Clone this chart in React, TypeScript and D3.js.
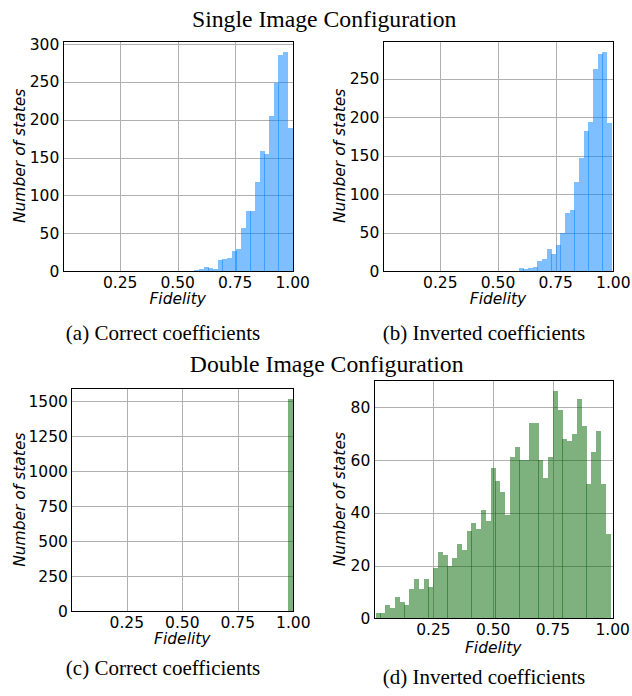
import * as d3 from "d3";

// x axis of every panel: fidelity in [0, 1]
const fidelityTicks = [0.25, 0.5, 0.75, 1.0];

// (a) single image, correct coefficients
const singleCorrectStart = 0.572;
const singleCorrectBin = 0.0203;
const singleCorrectCounts = [1, 3, 5, 4, 3, 15, 16, 17, 27, 29, 57, 79, 79, 118, 159, 155, 205, 249, 286, 290, 189];
const singleCorrectTicks = [0, 50, 100, 150, 200, 250, 300];

// (b) single image, inverted coefficients
const singleInvertedStart = 0.59;
const singleInvertedBin = 0.0201;
const singleInvertedCounts = [4, 3, 4, 5, 13, 15, 29, 22, 34, 50, 75, 79, 116, 147, 182, 194, 263, 282, 285, 192];
const singleInvertedTicks = [0, 50, 100, 150, 200, 250];

// (c) double image, correct coefficients
const doubleCorrectStart = 0.977;
const doubleCorrectBin = 0.0203;
const doubleCorrectCounts = [1517];
const doubleCorrectTicks = [0, 250, 500, 750, 1000, 1250, 1500];

// (d) double image, inverted coefficients
const doubleInvertedStart = 0.008;
const doubleInvertedBin = 0.02004;
const doubleInvertedCounts = [
  2, 2, 5, 4, 8, 6, 5, 11, 15, 11,
  15, 12, 19, 25, 24, 20, 23, 28, 26, 33,
  36, 34, 41, 37, 57, 52, 48, 39, 61, 65,
  60, 60, 74, 74, 60, 53, 61, 86, 79, 68,
  67, 70, 83, 73, 51, 63, 71, 51, 32,
];
const doubleInvertedTicks = [0, 20, 40, 60, 80];

const SERIF = "'Liberation Serif', 'Times New Roman', serif";
const SANS = "'DejaVu Sans', sans-serif";
const BLUE = "#0080ff";
const GREEN = "#006400";

interface Box {
  left: number;
  right: number;
  top: number;
  bottom: number;
}

interface PanelProps {
  counts: number[];
  start: number;
  bin: number;
  yTicks: number[];
  color: string;
  box: Box;
  yLabelX: number;
  xLabelGap: number;
}

function Histogram({ counts, start, bin, yTicks, color, box, yLabelX, xLabelGap }: PanelProps) {
  const x = d3.scaleLinear().domain([0, 1]).range([box.left, box.right]);
  const yMax = (d3.max(counts) || 1) * 1.05;
  const y = d3.scaleLinear().domain([0, yMax]).range([box.bottom, box.top]);

  const bars = counts.map((c, i) => {
    const x0 = x(start + i * bin);
    const x1 = x(start + (i + 1) * bin);
    const left = Math.round(x0);
    return { left, w: Math.ceil(x1 - x0), top: Math.round(y(c)), c };
  });
  const base = Math.round(y(0));
  const midX = (box.left + box.right) / 2;
  const midY = (box.top + box.bottom) / 2;

  return (
    <g>
      {/* grid */}
      <g stroke="#b0b0b0" strokeWidth={1} shapeRendering="crispEdges">
        {yTicks.map((t) => (
          <line key={"h" + t} x1={box.left} x2={box.right} y1={Math.round(y(t)) + 0.5} y2={Math.round(y(t)) + 0.5} />
        ))}
        {fidelityTicks.map((t) => (
          <line key={"v" + t} x1={Math.round(x(t)) + 0.5} x2={Math.round(x(t)) + 0.5} y1={box.top} y2={box.bottom} />
        ))}
      </g>
      {/* bars */}
      <g fill={color} fillOpacity={0.5} shapeRendering="crispEdges">
        {bars.map((b, i) => (
          <rect key={i} x={b.left} y={b.top} width={b.w} height={Math.max(0, base - b.top)} />
        ))}
      </g>
      {/* frame */}
      <rect
        x={Math.round(box.left) + 0.5}
        y={Math.round(box.top) + 0.5}
        width={Math.round(box.right) - Math.round(box.left)}
        height={Math.round(box.bottom) - Math.round(box.top)}
        fill="none"
        stroke="#000"
        strokeWidth={1}
        shapeRendering="crispEdges"
      />
      {/* tick labels */}
      <g fontFamily={SANS} fontSize={15.5} fill="#000">
        {fidelityTicks.map((t) => (
          <text key={"xt" + t} x={x(t)} y={box.bottom + 16.5} textAnchor="middle">
            {d3.format(".2f")(t)}
          </text>
        ))}
        {yTicks.map((t) => (
          <text key={"yt" + t} x={box.left - 3.4} y={y(t)} dy="0.36em" textAnchor="end">
            {t}
          </text>
        ))}
      </g>
      <text
        x={midX}
        y={box.bottom + xLabelGap}
        textAnchor="middle"
        fontFamily={SANS}
        fontStyle="italic"
        fontSize={15.5}
        fill="#000"
      >
        Fidelity
      </text>
      <text
        transform={`translate(${yLabelX},${midY}) rotate(-90)`}
        textAnchor="middle"
        fontFamily={SANS}
        fontStyle="italic"
        fontSize={15.5}
        fill="#000"
      >
        Number of states
      </text>
    </g>
  );
}

export default function App() {
  return (
    <svg
      width={632}
      height={696}
      style={{ position: "absolute", left: 0, top: 0, background: "#fff" }}
    >
      <rect width={632} height={696} fill="#fff" />
      <g fontFamily={SERIF} fill="#000" textAnchor="middle">
        <text x={324.2} y={27.3} fontSize={23.7}>Single Image Configuration</text>
        <text x={163} y={340} fontSize={21}>(a) Correct coefficients</text>
        <text x={484} y={340} fontSize={21}>(b) Inverted coefficients</text>
        <text x={326.7} y={372} fontSize={23.7}>Double Image Configuration</text>
        <text x={163} y={674.6} fontSize={21}>(c) Correct coefficients</text>
        <text x={484} y={683.6} fontSize={21}>(d) Inverted coefficients</text>
      </g>
      <Histogram
        counts={singleCorrectCounts}
        start={singleCorrectStart}
        bin={singleCorrectBin}
        yTicks={singleCorrectTicks}
        color={BLUE}
        box={{ left: 62.7, right: 292.7, top: 40.7, bottom: 271 }}
        yLabelX={25}
        xLabelGap={33.3}
      />
      <Histogram
        counts={singleInvertedCounts}
        start={singleInvertedStart}
        bin={singleInvertedBin}
        yTicks={singleInvertedTicks}
        color={BLUE}
        box={{ left: 382.7, right: 613.3, top: 40.7, bottom: 271 }}
        yLabelX={345}
        xLabelGap={33.3}
      />
      <Histogram
        counts={doubleCorrectCounts}
        start={doubleCorrectStart}
        bin={doubleCorrectBin}
        yTicks={doubleCorrectTicks}
        color={GREEN}
        box={{ left: 71.3, right: 293.3, top: 388.3, bottom: 611 }}
        yLabelX={25}
        xLabelGap={33.3}
      />
      <Histogram
        counts={doubleInvertedCounts}
        start={doubleInvertedStart}
        bin={doubleInvertedBin}
        yTicks={doubleInvertedTicks}
        color={GREEN}
        box={{ left: 373.7, right: 612.7, top: 380, bottom: 618.3 }}
        yLabelX={345}
        xLabelGap={34.4}
      />
    </svg>
  );
}
